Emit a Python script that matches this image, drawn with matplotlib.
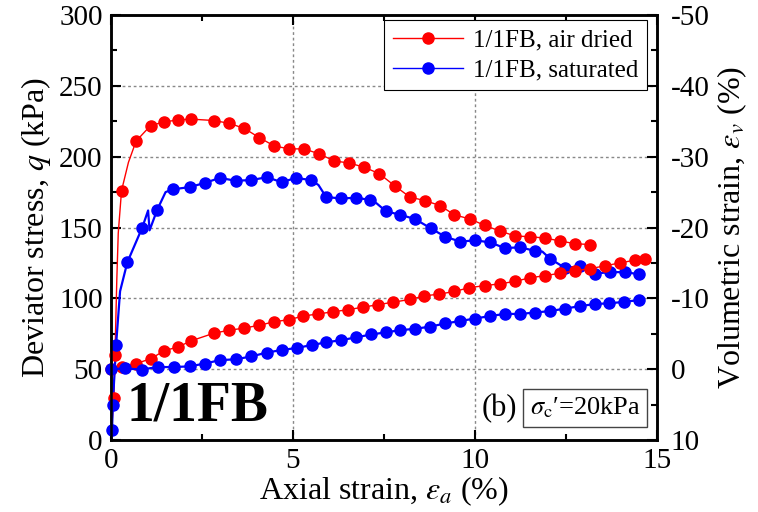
import numpy as np
import matplotlib
matplotlib.use("Agg")
import matplotlib.pyplot as plt
from matplotlib.ticker import MultipleLocator

plt.rcParams['font.family'] = ['Liberation Serif', 'DejaVu Serif']
plt.rcParams['mathtext.fontset'] = 'stix'
plt.rcParams['axes.unicode_minus'] = False

# air dried sample: deviator stress (marked points)
red_q_x = [0.08, 0.11, 0.29, 0.69, 1.09, 1.46, 1.85, 2.20, 2.84, 3.25, 3.66, 4.07,
           4.49, 4.90, 5.30, 5.72, 6.13, 6.55, 6.96, 7.37, 7.79, 8.21, 8.62, 9.04,
           9.43, 9.86, 10.27, 10.68, 11.11, 11.52, 11.93, 12.34, 12.76, 13.17]
red_q = [30, 60, 176, 211, 222, 224.5, 226, 226.5, 225.5, 223.5, 220, 213.5,
         207.5, 205.5, 205.5, 202, 197, 195.5, 192.5, 188, 179.5, 171.5, 169, 165.5,
         159, 156, 151.5, 147.5, 144, 143.5, 142.5, 140.5, 138.5, 138]
# unmarked readings along the same record
red_q_trace_x = [0.0, 0.16, 0.20, 0.48]
red_q_trace = [2, 113, 146, 196]

# saturated sample: deviator stress
blue_q_x = [0.03, 0.05, 0.14, 0.45, 0.86, 1.27, 1.71, 2.16, 2.58, 2.99, 3.43, 3.86,
            4.28, 4.69, 5.08, 5.49, 5.91, 6.32, 6.73, 7.12, 7.55, 7.94, 8.35, 8.78,
            9.18, 9.60, 10.0, 10.41, 10.82, 11.24, 11.65, 12.06, 12.47, 12.88, 13.30,
            13.71, 14.12, 14.51]
blue_q = [7, 25, 67, 125.5, 150, 162.5, 177, 178.5, 181.5, 185, 183, 183.5,
          185.5, 182, 185, 183.5, 171.5, 170.5, 171, 169.5, 161.5, 159, 156, 149.5,
          143.5, 140, 141, 139.5, 135.5, 136, 133.5, 128, 121.5, 122.5, 117.5,
          118.5, 118.5, 117]
blue_q_trace_x = [0.0, 0.25, 1.02, 1.06, 1.50, 5.70, 7.30, 11.85]
blue_q_trace = [0, 105, 162, 148, 175, 180, 167, 133]

# volumetric strain (negative = dilation)
red_ev_x = [0, 0.29, 0.69, 1.09, 1.46, 1.85, 2.20, 2.84, 3.25, 3.66, 4.07, 4.49,
            4.90, 5.28, 5.69, 6.10, 6.51, 6.92, 7.33, 7.74, 8.21, 8.61, 9.02, 9.43,
            9.84, 10.27, 10.69, 11.10, 11.51, 11.92, 12.34, 12.76, 13.17, 13.58,
            13.98, 14.40, 14.67]
red_ev = [0, -0.3, -0.8, -1.46, -2.6, -3.15, -4.0, -5.1, -5.5, -5.8, -6.2, -6.7,
          -7.0, -7.5, -7.8, -8.1, -8.4, -8.75, -9.1, -9.45, -9.84, -10.35, -10.6,
          -10.97, -11.5, -11.8, -12.05, -12.4, -12.9, -13.2, -13.55, -13.9, -14.2,
          -14.6, -15.0, -15.4, -15.6]
blue_ev_x = [0, 0.38, 0.84, 1.28, 1.73, 2.17, 2.58, 2.99, 3.43, 3.86, 4.28, 4.69,
             5.10, 5.51, 5.92, 6.33, 6.74, 7.15, 7.55, 7.94, 8.35, 8.76, 9.18, 9.59,
             10.0, 10.41, 10.82, 11.24, 11.65, 12.06, 12.47, 12.88, 13.30, 13.69,
             14.09, 14.50]
blue_ev = [0, -0.1, 0.05, -0.3, -0.3, -0.4, -0.8, -1.27, -1.4, -1.8, -2.35, -2.7,
           -3.0, -3.4, -3.8, -4.1, -4.5, -4.9, -5.2, -5.5, -5.7, -6.0, -6.45, -6.8,
           -7.15, -7.5, -7.8, -7.8, -8.0, -8.2, -8.55, -8.9, -9.2, -9.3, -9.5, -9.75]


def merged(x, y, tx, ty):
    pts = sorted(zip(list(x) + list(tx), list(y) + list(ty)), key=lambda p: p[0])
    return [p[0] for p in pts], [p[1] for p in pts]


RED = '#ff0000'
BLUE = '#0000ff'
MS = 8

fig = plt.figure(figsize=(7.58, 5.12), dpi=100)
ax = fig.add_axes([0.1464, 0.1406, 0.7204, 0.8301])
ax2 = ax.twinx()

# deviator stress curves
lx, ly = merged(red_q_x, red_q, red_q_trace_x, red_q_trace)
ax.plot(lx, ly, color=RED, lw=1.0, zorder=3)
ax.plot(red_q_x, red_q, 'o', color=RED, ms=MS, zorder=4, clip_on=False)
lx, ly = merged(blue_q_x, blue_q, blue_q_trace_x, blue_q_trace)
ax.plot(lx, ly, color=BLUE, lw=1.6, zorder=3)
ax.plot(blue_q_x, blue_q, 'o', color=BLUE, ms=MS, zorder=4, clip_on=False)

# volumetric strain curves
ax2.plot(red_ev_x, red_ev, '-o', color=RED, lw=1.0, ms=MS, clip_on=False)
ax2.plot(blue_ev_x, blue_ev, '-o', color=BLUE, lw=1.6, ms=MS, clip_on=False)

ax.set_xlim(0, 15)
ax.set_ylim(0, 300)
ax2.set_ylim(10, -50)

ax.xaxis.set_major_locator(MultipleLocator(5))
ax.xaxis.set_minor_locator(MultipleLocator(2.5))
ax.yaxis.set_major_locator(MultipleLocator(50))
ax.yaxis.set_minor_locator(MultipleLocator(25))
ax2.yaxis.set_major_locator(MultipleLocator(10))
ax2.yaxis.set_minor_locator(MultipleLocator(5))

ax.tick_params(which='both', direction='in', top=True, labelsize=21, pad=6)
ax.tick_params(which='major', length=7, width=1.5)
ax.tick_params(which='minor', length=4, width=1.5)
ax2.tick_params(which='both', direction='in', labelsize=21, pad=10)
ax2.tick_params(which='major', length=7, width=1.5)
ax2.tick_params(which='minor', length=4, width=1.5)
for a in (ax, ax2):
    for s in a.spines.values():
        s.set_linewidth(1.8)

ax.grid(True, which='major', color='#888888', linestyle=(0, (2, 2)), lw=1.0)

ax.set_xlabel(r'Axial strain, $\varepsilon_a$ (%)', fontsize=23, labelpad=0)
ax.set_ylabel(r'Deviator stress, $q$ (kPa)', fontsize=23, labelpad=4)
ax2.set_ylabel(r'Volumetric strain, $\varepsilon_v$ (%)', fontsize=23, labelpad=4)

h1, = ax.plot([], [], '-o', color=RED, lw=1.0, ms=MS)
h2, = ax.plot([], [], '-o', color=BLUE, lw=1.0, ms=MS)
leg = ax.legend([h1, h2], ['1/1FB, air dried', '1/1FB, saturated'],
                loc='upper right', bbox_to_anchor=(0.982, 0.988), fontsize=18,
                fancybox=False, edgecolor='black', framealpha=1,
                handlelength=2.8, borderpad=0.35, labelspacing=0.3,
                handletextpad=0.4, borderaxespad=0.0)
leg.get_frame().set_linewidth(0.8)
leg.set_zorder(10)

ax.text(0.159, 0.08, '1/1FB', transform=ax.transAxes, fontsize=40,
        fontweight='bold', ha='center', va='center', zorder=6)
ax.text(0.712, 0.075, '(b)', transform=ax.transAxes, fontsize=22,
        ha='center', va='center', zorder=6)
ax.text(0.868, 0.075, r"$\sigma_{\rm c}$′=20kPa", transform=ax.transAxes,
        fontsize=19, ha='center', va='center', zorder=6,
        bbox=dict(boxstyle='square,pad=0.25', fc='white', ec='#444444', lw=1.0))

fig.savefig('out.png', dpi=100)
